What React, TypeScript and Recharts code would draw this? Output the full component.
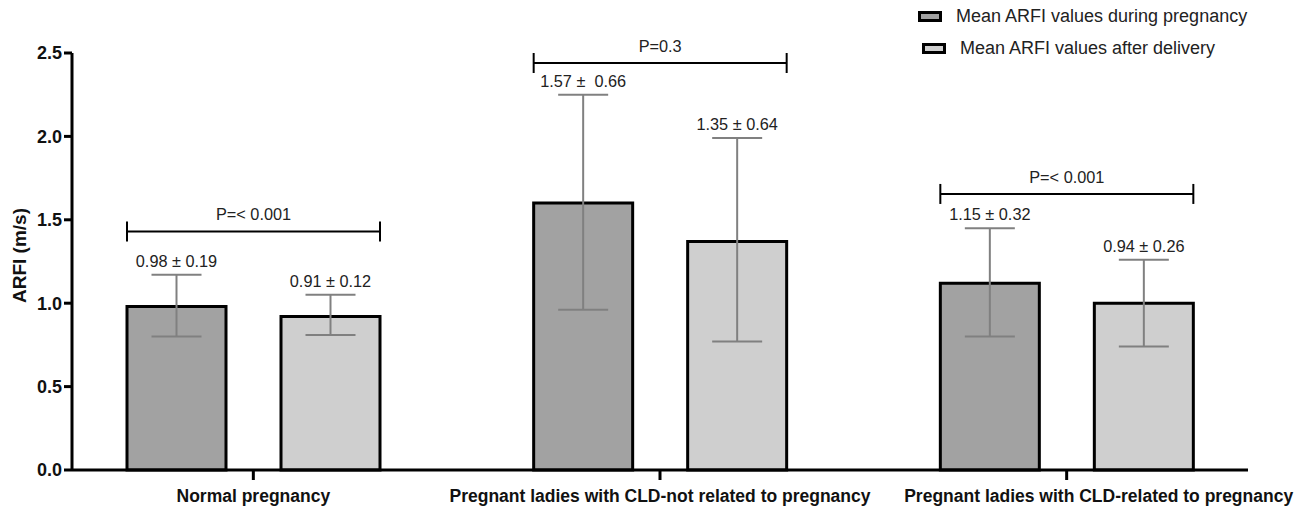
import React from 'react';
import { BarChart, Bar, XAxis, YAxis, ErrorBar, LabelList, Legend } from 'recharts';

const categories = [
  'Normal pregnancy',
  'Pregnant ladies with CLD-not related to pregnancy',
  'Pregnant ladies with CLD-related to pregnancy',
];
const seriesNames = ['Mean ARFI values during pregnancy', 'Mean ARFI values after delivery'];
const duringValues = [0.98, 1.6, 1.12];
const afterValues = [0.92, 1.37, 1.0];
const duringErrLow = [0.18, 0.64, 0.32];
const duringErrHigh = [0.19, 0.65, 0.33];
const afterErrLow = [0.11, 0.6, 0.26];
const afterErrHigh = [0.13, 0.62, 0.26];
const duringLabels = ['0.98 ± 0.19', '1.57 ±  0.66', '1.15 ± 0.32'];
const afterLabels = ['0.91 ± 0.12', '1.35 ± 0.64', '0.94 ± 0.26'];
const pLabels = ['P=< 0.001', 'P=0.3', 'P=< 0.001'];
const pBracketValues = [1.43, 2.44, 1.655];
const yTicks = [0, 0.5, 1, 1.5, 2, 2.5];

const FONT = "'Liberation Sans', Arial, Helvetica, sans-serif";
const DARK = '#a2a2a2';
const LIGHT = '#cfcfcf';
const BAR_SIZE = 99;
const BAR_GAP = 55;

const data = categories.map((c, i) => ({
  category: c,
  during: duringValues[i],
  after: afterValues[i],
  duringErr: [duringErrLow[i], duringErrHigh[i]],
  afterErr: [afterErrLow[i], afterErrHigh[i]],
}));

const getBox = (props: any) => {
  const vb = props.viewBox || {};
  return {
    x: props.x ?? vb.x,
    y: props.y ?? vb.y,
    width: props.width ?? vb.width,
    height: props.height ?? vb.height,
  };
};

const makeValueLabel = (labels: string[], values: number[], errHigh: number[]) => (props: any) => {
  const { x, y, width, height } = getBox(props);
  const i = props.index;
  if (i == null || x == null) return null;
  const ppu = height / values[i];
  const capY = y - errHigh[i] * ppu;
  return (
    <text
      x={x + width / 2}
      y={capY - 8}
      textAnchor="middle"
      fontSize={16.3}
      fill="#222"
      fontFamily={FONT}
      xmlSpace="preserve"
      style={{ whiteSpace: 'pre' }}
    >
      {labels[i]}
    </text>
  );
};

const renderBracket = (props: any) => {
  const { x, y, width, height } = getBox(props);
  const i = props.index;
  if (i == null || x == null) return null;
  const right = x + width;
  const left = x - BAR_GAP - BAR_SIZE;
  const base = y + height;
  const ppu = height / afterValues[i];
  const by = base - pBracketValues[i] * ppu;
  return (
    <g>
      <line x1={left} x2={right} y1={by} y2={by} stroke="#000" strokeWidth={2} />
      <line x1={left} x2={left} y1={by - 10} y2={by + 10} stroke="#000" strokeWidth={2} />
      <line x1={right} x2={right} y1={by - 10} y2={by + 10} stroke="#000" strokeWidth={2} />
      <text x={(left + right) / 2} y={by - 11} textAnchor="middle" fontSize={16.3} fill="#222" fontFamily={FONT}>
        {pLabels[i]}
      </text>
    </g>
  );
};

const renderXTick = (props: any) => {
  const { x, y, payload, index } = props;
  const shift = index === categories.length - 1 ? 32 : 0;
  return (
    <text
      x={x + shift}
      y={y}
      dy="0.71em"
      textAnchor="middle"
      fontSize={17.5}
      fontWeight="bold"
      fill="#111"
      fontFamily={FONT}
    >
      {payload.value}
    </text>
  );
};

const renderYLabel = (props: any) => {
  const vb = props.viewBox || { x: 0, y: 53, width: 72, height: 417 };
  const cx = vb.x + 19;
  const cy = vb.y + vb.height / 2 - 6;
  return (
    <text
      x={cx}
      y={cy}
      transform={`rotate(-90, ${cx}, ${cy})`}
      textAnchor="middle"
      dominantBaseline="central"
      fontSize={19}
      fontWeight="bold"
      fill="#111"
      fontFamily={FONT}
    >
      ARFI (m/s)
    </text>
  );
};

const fills = [DARK, LIGHT];
const renderLegend = () => (
  <div style={{ fontFamily: FONT, fontSize: 18, color: '#222' }}>
    {seriesNames.map((n, i) => (
      <div
        key={n}
        style={{ display: 'flex', alignItems: 'center', height: 32, paddingLeft: i * 4, whiteSpace: 'nowrap' }}
      >
        <span
          style={{
            display: 'inline-block',
            width: 18,
            height: 5,
            border: '3px solid #000',
            background: fills[i],
            marginRight: 14,
          }}
        />
        <span>{n}</span>
      </div>
    ))}
  </div>
);

export default function App() {
  return (
    <div style={{ position: 'absolute', left: 0, top: 0, width: 1311, height: 509, background: '#fff', fontFamily: FONT }}>
      <BarChart
        width={1311}
        height={509}
        data={data}
        margin={{ top: 53, right: 63, bottom: 0, left: 0 }}
        barGap={BAR_GAP}
        barSize={BAR_SIZE}
      >
        <XAxis
          dataKey="category"
          padding={{ left: -22, right: -22 }}
          height={39}
          tickSize={10}
          tickMargin={10}
          interval={0}
          axisLine={{ stroke: '#000', strokeWidth: 3 }}
          tickLine={{ stroke: '#000', strokeWidth: 3 }}
          tick={renderXTick}
        />
        <YAxis
          width={72}
          domain={[0, 2.5]}
          ticks={yTicks}
          interval={0}
          tickSize={8}
          tickMargin={2}
          tickFormatter={(v: number) => v.toFixed(1)}
          axisLine={{ stroke: '#000', strokeWidth: 3 }}
          tickLine={{ stroke: '#000', strokeWidth: 3 }}
          tick={{ fill: '#111', fontSize: 18, fontWeight: 'bold', fontFamily: FONT }}
          label={renderYLabel}
        />
        <Legend
          layout="vertical"
          align="center"
          verticalAlign="middle"
          wrapperStyle={{ top: 0, left: 918, width: 390 }}
          content={renderLegend}
        />
        <Bar
          dataKey="during"
          name={seriesNames[0]}
          fill={DARK}
          stroke="#000"
          strokeWidth={3}
          barSize={BAR_SIZE}
          isAnimationActive={false}
        >
          <ErrorBar dataKey="duringErr" width={25} stroke="#808080" strokeWidth={2} direction="y" />
          <LabelList dataKey="during" content={makeValueLabel(duringLabels, duringValues, duringErrHigh)} />
        </Bar>
        <Bar
          dataKey="after"
          name={seriesNames[1]}
          fill={LIGHT}
          stroke="#000"
          strokeWidth={3}
          barSize={BAR_SIZE}
          isAnimationActive={false}
        >
          <ErrorBar dataKey="afterErr" width={25} stroke="#808080" strokeWidth={2} direction="y" />
          <LabelList dataKey="after" content={makeValueLabel(afterLabels, afterValues, afterErrHigh)} />
          <LabelList dataKey="after" content={renderBracket} />
        </Bar>
      </BarChart>
    </div>
  );
}
